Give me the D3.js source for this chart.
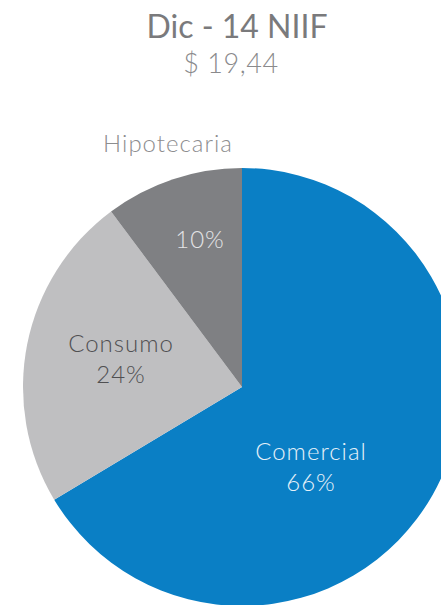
<!DOCTYPE html>
<html>
<head>
<meta charset="utf-8">
<script src="https://cdn.jsdelivr.net/npm/d3@7"></script>
<style>
  body { margin: 0; background: #fff; }
  svg { display: block; font-family: "Lato", "Noto Sans", sans-serif; }
</style>
</head>
<body>
<div id="chart"></div>
<script>
// data
const categorias = ["Comercial", "Consumo", "Hipotecaria"];
const valores = [66.4, 23.4, 10.2];
const etiquetasPct = ["66%", "24%", "10%"];
const colores = ["#0a7fc5", "#bfbfc1", "#7f8083"];
const titulo = "Dic - 14 NIIF";
const subtitulo = "$ 19,44";

const width = 441, height = 605;
const cx = 242, cy = 387, radius = 219;

const svg = d3.select("#chart").append("svg")
  .attr("width", width)
  .attr("height", height);

// titulo
svg.append("text")
  .attr("x", 237).attr("y", 38)
  .attr("text-anchor", "middle")
  .attr("font-size", 32).attr("font-weight", 400)
  .attr("fill", "#7a7a7c")
  .text(titulo);
svg.append("text")
  .attr("x", 231).attr("y", 73)
  .attr("text-anchor", "middle")
  .attr("font-size", 27).attr("font-weight", 300)
  .attr("letter-spacing", 0.6)
  .attr("fill", "#8a8a8c")
  .text(subtitulo);

const pie = d3.pie().sort(null).value(d => d.v);
const arc = d3.arc().innerRadius(0).outerRadius(radius);
const datos = categorias.map((c, i) => ({ c: c, v: valores[i], pct: etiquetasPct[i], col: colores[i] }));

const g = svg.append("g").attr("transform", "translate(" + cx + "," + cy + ")");

g.selectAll("path")
  .data(pie(datos))
  .enter()
  .append("path")
  .attr("d", arc)
  .attr("fill", d => d.data.col);

// posiciones de etiquetas (relativas al centro)
const etiquetas = {
  "Comercial": { x: 69, y: 73, fill: "#e6f1f9", dos: true },
  "Consumo": { x: -121, y: -35, fill: "#505052", dos: true },
  "Hipotecaria": { x: -42, y: -139, fill: "#e4e4e6", dos: false }
};

pie(datos).forEach(d => {
  const e = etiquetas[d.data.c];
  if (e.dos) {
    const t = g.append("text")
      .attr("text-anchor", "middle")
      .attr("font-size", 24).attr("font-weight", 300)
      .attr("letter-spacing", 1)
      .attr("fill", e.fill);
    t.append("tspan").attr("x", e.x).attr("y", e.y).text(d.data.c);
    t.append("tspan").attr("x", e.x).attr("y", e.y + 31).text(d.data.pct);
  } else {
    g.append("text")
      .attr("x", e.x).attr("y", e.y)
      .attr("text-anchor", "middle")
      .attr("font-size", 24).attr("font-weight", 300)
      .attr("letter-spacing", 1)
      .attr("fill", e.fill)
      .text(d.data.pct);
    svg.append("text")
      .attr("x", 168).attr("y", 152)
      .attr("text-anchor", "middle")
      .attr("font-size", 24).attr("font-weight", 300)
      .attr("letter-spacing", 1)
      .attr("fill", "#8d8d8f")
      .text(d.data.c);
  }
});
</script>
</body>
</html>
